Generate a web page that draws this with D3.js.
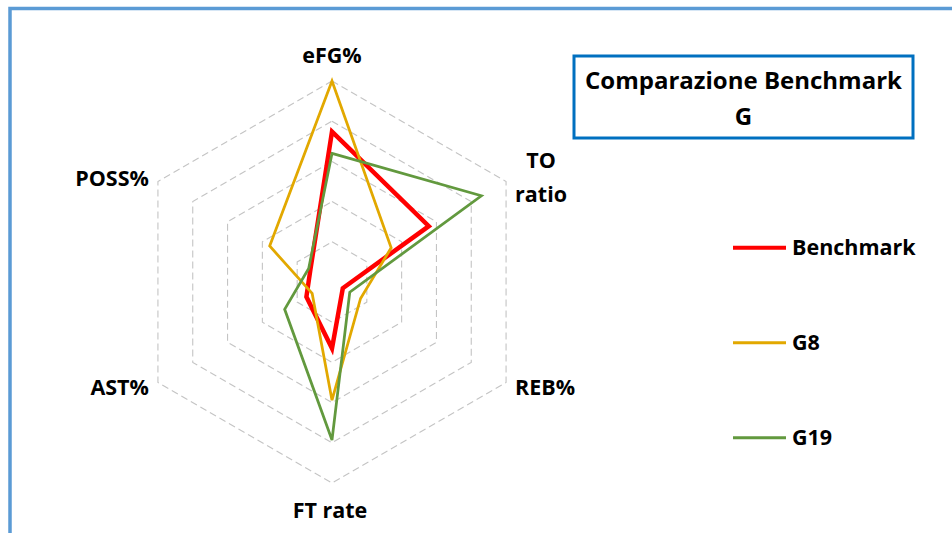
<!DOCTYPE html>
<html>
<head>
<meta charset="utf-8">
<script src="https://cdn.jsdelivr.net/npm/d3@7"></script>
<style>
  html, body { margin: 0; padding: 0; background: #fff; }
  svg text { font-family: "Open Sans", Lato, sans-serif; font-weight: 700; fill: #000; }
</style>
</head>
<body>
<svg id="chart" width="952" height="533"></svg>
<script>
const categories = ["eFG%", "TO ratio", "REB%", "FT rate", "AST%", "POSS%"];
const benchmark = [0.748, 0.556, 0.062, 0.33, 0.147, 0.124];
const g8        = [1.0,   0.34,  0.164, 0.588, 0.114, 0.358];
const g19       = [0.64,  0.858, 0.102, 0.786, 0.272, 0.134];
const ringTicks = [0.2, 0.4, 0.6, 0.8, 1.0];
const seriesNames = ["Benchmark", "G8", "G19"];
const titleLines = ["Comparazione Benchmark", "G"];

const seriesData = [benchmark, g8, g19];
const colors = ["#FF0000", "#E2A800", "#62993E"];
const widths = [4.5, 2.75, 2.75];

const svg = d3.select("#chart");
const cx = 332, cy = 282, R = 201;
const r = d3.scaleLinear().domain([0, 1]).range([0, R]);
const angle = d3.scaleLinear().domain([0, categories.length]).range([0, 2 * Math.PI]);

// outer chart border (left + top)
svg.append("path")
  .attr("d", "M10,533 L10,8.5 L952,8.5")
  .attr("fill", "none").attr("stroke", "#5B9BD5").attr("stroke-width", 3.5);

const g = svg.append("g").attr("transform", `translate(${cx},${cy})`);

const radial = d3.lineRadial()
  .angle((d, i) => angle(i))
  .radius(d => r(d))
  .curve(d3.curveLinearClosed);

// grid hexagons
g.selectAll("path.ring").data(ringTicks).join("path")
  .attr("class", "ring")
  .attr("d", t => radial(categories.map(() => t)))
  .attr("fill", "none")
  .attr("stroke", "#C4C4C4")
  .attr("stroke-width", 1.1)
  .attr("stroke-dasharray", "7,4");

// series
g.selectAll("path.series").data(seriesData).join("path")
  .attr("class", "series")
  .attr("d", d => radial(d))
  .attr("fill", "none")
  .attr("stroke", (d, i) => colors[i])
  .attr("stroke-width", (d, i) => widths[i])
  .attr("stroke-linejoin", "miter");

// axis labels
const fs = 21.5;
function vertex(i) {
  const a = angle(i);
  return [cx + r(1) * Math.sin(a), cy - r(1) * Math.cos(a)];
}
const labelG = svg.append("g").attr("font-size", fs);
categories.forEach((c, i) => {
  const [vx, vy] = vertex(i);
  const words = c === "TO ratio" ? ["TO", "ratio"] : [c];
  const t = labelG.append("text");
  if (i === 0) {
    t.attr("x", vx).attr("y", vy - 18).attr("text-anchor", "middle").text(c);
  } else if (i === 3) {
    t.attr("x", vx - 2).attr("y", vy + 35).attr("text-anchor", "middle").text(c);
  } else if (i === 1) {
    words.forEach((w, k) => {
      t.append("tspan").attr("x", 0).attr("y", vy - 14 + k * 34).attr("text-anchor", "middle").text(w);
    });
    const bb = t.node().getBBox();
    t.attr("transform", `translate(${vx + 9 + bb.width / 2},0)`);
  } else if (i === 2) {
    t.attr("x", vx + 9).attr("y", vy + 12.5).attr("text-anchor", "start").text(c);
  } else if (i === 4) {
    t.attr("x", vx - 9).attr("y", vy + 12.5).attr("text-anchor", "end").text(c);
  } else {
    t.attr("x", vx - 9).attr("y", vy + 4.5).attr("text-anchor", "end").text(c);
  }
});

// title box
svg.append("rect")
  .attr("x", 574).attr("y", 56).attr("width", 339).attr("height", 82)
  .attr("fill", "#fff").attr("stroke", "#0070C0").attr("stroke-width", 3);
svg.append("g").attr("font-size", 24).selectAll("text").data(titleLines).join("text")
  .attr("x", 743.5).attr("y", (d, i) => 89 + i * 36)
  .attr("text-anchor", "middle").text(d => d);

// legend
const legendY = d3.scalePoint().domain(seriesNames).range([247.7, 437.7]);
const leg = svg.append("g").attr("font-size", fs);
seriesNames.forEach((n, i) => {
  leg.append("line")
    .attr("x1", 733).attr("x2", 786)
    .attr("y1", legendY(n)).attr("y2", legendY(n))
    .attr("stroke", colors[i]).attr("stroke-width", i === 0 ? 4 : 3);
  leg.append("text")
    .attr("x", 792).attr("y", legendY(n)).attr("dy", "0.36em")
    .text(n);
});
</script>
</body>
</html>
